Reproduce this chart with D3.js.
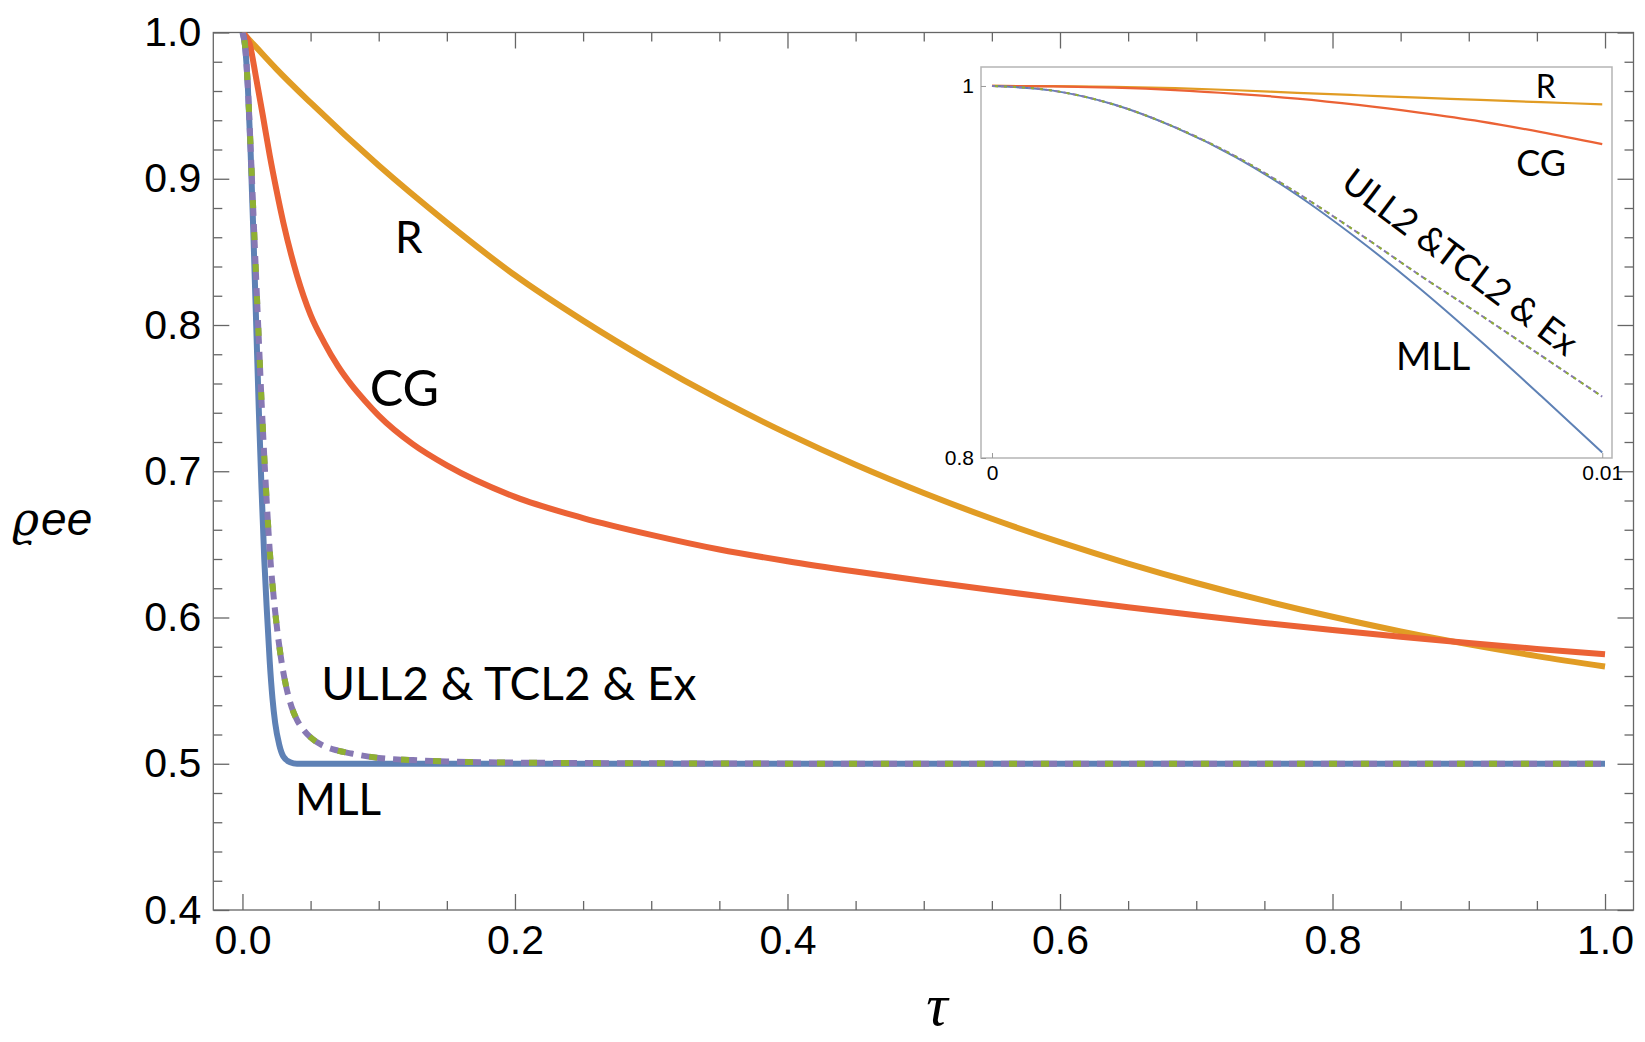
<!DOCTYPE html>
<html>
<head>
<meta charset="utf-8">
<script src="https://cdn.jsdelivr.net/npm/d3@7"></script>
<style>
  body { margin: 0; background: #fff; }
</style>
</head>
<body>
<div id="chart"></div>
<script>
// valeurs (rho_ee en fonction de tau)
const tauR = [0, 0.01, 0.025, 0.05, 0.1, 0.15, 0.2, 0.25, 0.3, 0.35, 0.4, 0.45, 0.5, 0.55, 0.6, 0.65, 0.7, 0.75, 0.8, 0.85, 0.9, 0.95, 1.0];
const valR = [1.0, 0.990, 0.975, 0.952, 0.909, 0.870, 0.834, 0.803, 0.7748, 0.7491, 0.7257, 0.7044, 0.6851, 0.6675, 0.6515, 0.6369, 0.6236, 0.6115, 0.6005, 0.5905, 0.5816, 0.5736, 0.5665];

const tauCG = [0, 0.005, 0.01, 0.015, 0.02, 0.025, 0.03, 0.04, 0.05, 0.06, 0.07, 0.08, 0.09, 0.1, 0.125, 0.15, 0.2, 0.25, 0.3, 0.35, 0.4, 0.45, 0.5, 0.55, 0.6, 0.65, 0.7, 0.75, 0.8, 0.85, 0.9, 0.95, 1.0];
const valCG = [1.0, 0.993, 0.969, 0.943, 0.916, 0.892, 0.870, 0.834, 0.807, 0.788, 0.772, 0.759, 0.748, 0.738, 0.7185, 0.704, 0.6825, 0.668, 0.6565, 0.6465, 0.6385, 0.6315, 0.625, 0.6188, 0.6128, 0.607, 0.6015, 0.5963, 0.5914, 0.5868, 0.5825, 0.5785, 0.5748];

const tauMLL = [0, 0.002, 0.004, 0.006, 0.008, 0.01, 0.012, 0.014, 0.016, 0.018, 0.02, 0.022, 0.024, 0.027, 0.03, 0.035, 0.04, 0.1, 0.5, 1.0];
const valMLL = [1.0, 0.990, 0.962, 0.918, 0.863, 0.803, 0.742, 0.688, 0.640, 0.603, 0.570, 0.545, 0.528, 0.513, 0.505, 0.501, 0.5, 0.5, 0.5, 0.5];

const tauEx = [0, 0.002, 0.004, 0.006, 0.008, 0.01, 0.012, 0.014, 0.016, 0.018, 0.02, 0.024, 0.028, 0.032, 0.036, 0.04, 0.045, 0.05, 0.06, 0.07, 0.08, 0.1, 0.125, 0.15, 0.2, 0.3, 0.5, 1.0];
const valEx = [1.0, 0.990, 0.962, 0.921, 0.877, 0.833, 0.790, 0.748, 0.710, 0.676, 0.646, 0.604, 0.574, 0.553, 0.539, 0.530, 0.523, 0.518, 0.512, 0.509, 0.507, 0.504, 0.5025, 0.5015, 0.5008, 0.5003, 0.5, 0.5];

// encart : zoom sur 0 <= tau <= 0.01
const tauIn = [0, 0.001, 0.002, 0.003, 0.004, 0.005, 0.006, 0.007, 0.008, 0.009, 0.01];
const inR   = [1.0, 0.9999, 0.9995, 0.9988, 0.9977, 0.9963, 0.9950, 0.9937, 0.9925, 0.9913, 0.9901];
const inCG  = [1.0, 0.9998, 0.9991, 0.9978, 0.9958, 0.9932, 0.9898, 0.9857, 0.9810, 0.9752, 0.9687];
const inMLL = [1.0, 0.9975, 0.9900, 0.9777, 0.9616, 0.9414, 0.9176, 0.8914, 0.8630, 0.8333, 0.8030];
const inEx  = [1.0, 0.9975, 0.9900, 0.9778, 0.9620, 0.9425, 0.9210, 0.8985, 0.8770, 0.8550, 0.8330];

// graduations
const xTickLabels = ['0.0', '0.2', '0.4', '0.6', '0.8', '1.0'];
const yTickLabels = ['0.4', '0.5', '0.6', '0.7', '0.8', '0.9', '1.0'];
const inXTickLabels = ['0', '0.01'];
const inYTickLabels = ['0.8', '1'];

const colR = '#E19C24', colCG = '#EB6235', colMLL = '#5E81B5', colG = '#8FB032', colP = '#8778B3';

window.onload = function () {
    let width = 1645;
    let height = 1042;
    let svg = d3.select('#chart')
        .append('svg')
        .attr('width', width)
        .attr('height', height);

    // Echelles du graphe principal
    let x = d3.scaleLinear().domain([-0.0214, 1.0209]).range([213.3, 1633.5]);
    let y = d3.scaleLinear().domain([0.4, 1.0]).range([910, 32.5]);

    const xMajor = xTickLabels.map(Number);
    const xMinor = d3.range(0, 1.0001, 0.05).filter(v => !xMajor.some(m => Math.abs(m - v) < 1e-6));
    const yMajor = yTickLabels.map(Number);
    const yMinor = d3.range(0.4, 1.0001, 0.02).filter(v => !yMajor.some(m => Math.abs(m - v) < 1e-6));

    // Axes du cadre (graduations vers l'intérieur)
    function frameAxis(axisFn, scale, vals, size, labels, transform, pad) {
        let g = svg.append('g')
            .attr('transform', transform)
            .call(axisFn(scale).tickValues(vals).tickSize(size).tickPadding(pad || 12)
                .tickFormat(labels ? d3.format('.1f') : ''));
        g.select('.domain').remove();
        g.selectAll('line').attr('stroke', '#666').attr('stroke-width', 1.3);
        g.selectAll('text')
            .attr('font-family', 'Liberation Sans, Arial, sans-serif')
            .attr('font-size', 41)
            .attr('fill', '#000');
        return g;
    }
    frameAxis(d3.axisBottom, x, xMajor, -16, true, 'translate(0,910)', 15);
    frameAxis(d3.axisBottom, x, xMinor, -9, false, 'translate(0,910)');
    frameAxis(d3.axisTop, x, xMajor, -16, false, 'translate(0,32.5)');
    frameAxis(d3.axisTop, x, xMinor, -9, false, 'translate(0,32.5)');
    frameAxis(d3.axisLeft, y, yMajor, -16, true, 'translate(213.3,0)', 12);
    frameAxis(d3.axisLeft, y, yMinor, -9, false, 'translate(213.3,0)');
    frameAxis(d3.axisRight, y, yMajor, -16, false, 'translate(1633.5,0)');
    frameAxis(d3.axisRight, y, yMinor, -9, false, 'translate(1633.5,0)');

    // Cadre
    svg.append('rect')
        .attr('x', x(-0.0214)).attr('y', y(1.0))
        .attr('width', x(1.0209) - x(-0.0214)).attr('height', y(0.4) - y(1.0))
        .attr('fill', 'none').attr('stroke', '#666').attr('stroke-width', 1.3);

    svg.append('clipPath').attr('id', 'clipMain')
        .append('rect')
        .attr('x', x(-0.0214)).attr('y', y(1.0))
        .attr('width', x(1.0209) - x(-0.0214)).attr('height', y(0.4) - y(1.0));

    function curve(sx, sy, taus, vals) {
        return d3.line()
            .x(d => sx(d[0]))
            .y(d => sy(d[1]))
            .curve(d3.curveMonotoneX)(taus.map((t, i) => [t, vals[i]]));
    }

    let plot = svg.append('g').attr('clip-path', 'url(#clipMain)');
    plot.append('path').attr('d', curve(x, y, tauR, valR))
        .attr('fill', 'none').attr('stroke', colR).attr('stroke-width', 6);
    plot.append('path').attr('d', curve(x, y, tauCG, valCG))
        .attr('fill', 'none').attr('stroke', colCG).attr('stroke-width', 6);
    plot.append('path').attr('d', curve(x, y, tauMLL, valMLL))
        .attr('fill', 'none').attr('stroke', colMLL).attr('stroke-width', 6)
        .attr('stroke-linejoin', 'round');
    plot.append('path').attr('d', curve(x, y, tauEx, valEx))
        .attr('fill', 'none').attr('stroke', colP).attr('stroke-width', 6)
        .attr('stroke-dasharray', '24 8');
    plot.append('path').attr('d', curve(x, y, tauEx, valEx))
        .attr('fill', 'none').attr('stroke', colG).attr('stroke-width', 6)
        .attr('stroke-dasharray', '8 24').attr('stroke-dashoffset', -8);

    // Etiquettes des courbes
    const labFont = 'Lato, Open Sans, sans-serif';
    function label(g, sx, sy, t, v, txt, size) {
        return g.append('text')
            .attr('x', sx(t)).attr('y', sy(v))
            .attr('font-family', labFont).attr('font-size', size)
            .attr('fill', '#000')
            .text(txt);
    }
    label(svg, x, y, 0.112, 0.849, 'R', 44);
    label(svg, x, y, 0.0935, 0.7445, 'CG', 50);
    label(svg, x, y, 0.0578, 0.5435, 'ULL2 & TCL2 & Ex', 46);
    label(svg, x, y, 0.0386, 0.465, 'MLL', 44);

    // Titres des axes
    let yl = svg.append('text')
        .attr('x', 12).attr('y', 535)
        .attr('font-style', 'italic').attr('fill', '#000');
    yl.append('tspan').attr('font-family', 'DejaVu Serif, serif').attr('font-size', 46).text('ϱ');
    yl.append('tspan').attr('font-family', 'Liberation Sans, Arial, sans-serif').attr('font-size', 46)
        .attr('dx', 2).text('ee');

    svg.append('text')
        .attr('x', 937).attr('y', 1025)
        .attr('text-anchor', 'middle')
        .attr('font-family', 'Liberation Serif, serif')
        .attr('font-style', 'italic').attr('font-size', 60)
        .text('τ');

    // Encart
    let xi = d3.scaleLinear().domain([-0.00018, 0.01016]).range([981, 1612]);
    let yi = d3.scaleLinear().domain([0.8, 1.0102]).range([458, 67]);

    svg.append('rect')
        .attr('x', xi(-0.00018)).attr('y', yi(1.0102))
        .attr('width', xi(0.01016) - xi(-0.00018)).attr('height', yi(0.8) - yi(1.0102))
        .attr('fill', '#fff').attr('stroke', '#b5b5b5').attr('stroke-width', 1.5);

    svg.append('clipPath').attr('id', 'clipInset')
        .append('rect')
        .attr('x', xi(-0.00018)).attr('y', yi(1.0102))
        .attr('width', xi(0.01016) - xi(-0.00018)).attr('height', yi(0.8) - yi(1.0102));

    function insetAxis(axisFn, scale, labels, transform, pad) {
        let g = svg.append('g')
            .attr('transform', transform)
            .call(axisFn(scale).tickValues(labels.map(Number)).tickSize(-5).tickPadding(pad)
                .tickFormat((d, i) => labels[i]));
        g.select('.domain').remove();
        g.selectAll('line').attr('stroke', '#999').attr('stroke-width', 1);
        g.selectAll('text')
            .attr('font-family', 'Liberation Sans, Arial, sans-serif')
            .attr('font-size', 21)
            .attr('fill', '#000');
    }
    insetAxis(d3.axisBottom, xi, inXTickLabels, 'translate(0,458)', 7);
    insetAxis(d3.axisLeft, yi, inYTickLabels, 'translate(981,0)', 7);

    let inset = svg.append('g').attr('clip-path', 'url(#clipInset)');
    inset.append('path').attr('d', curve(xi, yi, tauIn, inR))
        .attr('fill', 'none').attr('stroke', colR).attr('stroke-width', 2.2);
    inset.append('path').attr('d', curve(xi, yi, tauIn, inCG))
        .attr('fill', 'none').attr('stroke', colCG).attr('stroke-width', 2.2);
    inset.append('path').attr('d', curve(xi, yi, tauIn, inMLL))
        .attr('fill', 'none').attr('stroke', colMLL).attr('stroke-width', 2);
    inset.append('path').attr('d', curve(xi, yi, tauIn, inEx))
        .attr('fill', 'none').attr('stroke', colP).attr('stroke-width', 2)
        .attr('stroke-dasharray', '6 3');
    inset.append('path').attr('d', curve(xi, yi, tauIn, inEx))
        .attr('fill', 'none').attr('stroke', colG).attr('stroke-width', 2)
        .attr('stroke-dasharray', '3 6').attr('stroke-dashoffset', -3);

    label(svg, xi, yi, 0.00891, 0.99355, 'R', 32);
    label(svg, xi, yi, 0.00859, 0.9516, 'CG', 36);
    label(svg, xi, yi, 0.00662, 0.8473, 'MLL', 38);
    svg.append('text')
        .attr('transform', `translate(${xi(0.00767)},${yi(0.9054)}) rotate(37)`)
        .attr('text-anchor', 'middle').attr('dy', '0.35em')
        .attr('font-family', labFont).attr('font-size', 36)
        .text('ULL2 &TCL2 & Ex');
};
</script>
</body>
</html>
